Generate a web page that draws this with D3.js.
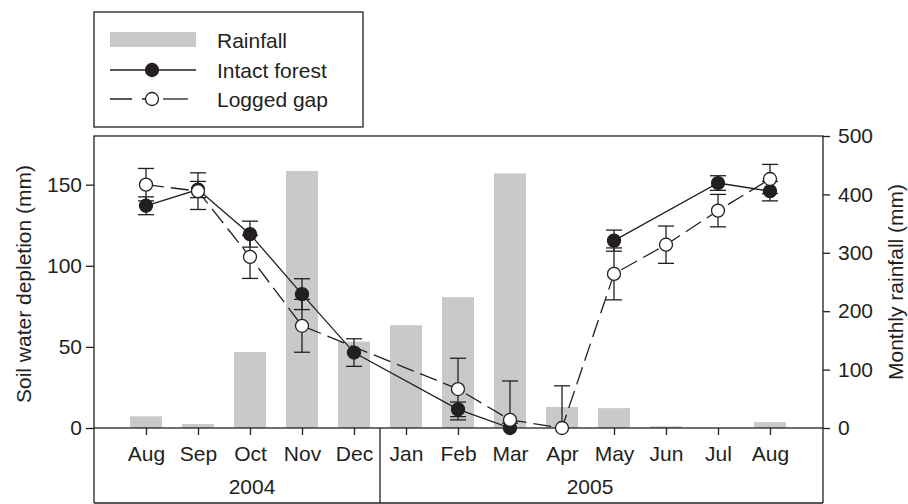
<!DOCTYPE html>
<html>
<head>
<meta charset="utf-8">
<script src="https://cdn.jsdelivr.net/npm/d3@7"></script>
<style>
  body { margin: 0; background: #fff; }
  svg text { font-family: "Liberation Sans", Arial, Helvetica, sans-serif; fill: #231f20; }
</style>
</head>
<body>
<svg id="chart" width="908" height="504"></svg>
<script>
// months on the x axis (Aug 2004 .. Aug 2005)
var months = ['Aug', 'Sep', 'Oct', 'Nov', 'Dec', 'Jan', 'Feb', 'Mar', 'Apr', 'May', 'Jun', 'Jul', 'Aug'];
var years = ['2004', '2005'];
var yearFirstMonth = [0, 5];   // index where each year starts
var yearLastMonth = [4, 12];

// monthly rainfall (mm), right axis
var rainfall = [20, 7, 130, 440, 148, 176, 224, 436, 36, 34, 3, 0, 10];

// soil water depletion (mm), left axis; null = not measured
var intact = [137, 147, 119.5, 82.5, 46.5, null, 11.5, 0, null, 115.5, null, 151, 146];
var intactErr = [5.5, 5, 8, 9.5, 8.5, null, 4.5, 3, null, 6.5, null, 4.5, 6];
var intactSegments = [[0, 7], [9, 12]];   // line is broken at Apr

var logged = [150, 146, 105.5, 63, null, null, 24, 5, 0, 95, 113, 134, 153.5];
var loggedErr = [10, 11.3, 13.3, 16.3, null, null, 19, 24, 26, 16, 11.5, 10, 9];

var leftTicks = [0, 50, 100, 150];
var rightTicks = [0, 100, 200, 300, 400, 500];

var ink = '#231f20';
var barColor = '#c8c9cb';

var svg = d3.select('#chart');

var x = d3.scalePoint().domain(d3.range(months.length)).range([94, 822]).padding(1);
var yL = d3.scaleLinear().domain([0, 180]).range([428, 136]);
var yR = d3.scaleLinear().domain([0, 500]).range([428, 136]);

// rainfall bars
svg.append('g').selectAll('rect')
  .data(rainfall)
  .enter()
  .append('rect')
  .attr('x', function(d, i) { return x(i) - 16; })
  .attr('width', 32)
  .attr('y', function(d) { return yR(d); })
  .attr('height', function(d) { return yR(0) - yR(d); })
  .attr('fill', barColor);

// frame
svg.append('rect')
  .attr('x', 94).attr('y', 136).attr('width', 729).attr('height', 292)
  .attr('fill', 'none').attr('stroke', ink).attr('stroke-width', 1.3);

// category box under the plot
var divX = (x(yearLastMonth[0]) + x(yearFirstMonth[1])) / 2;
var box = svg.append('g').attr('stroke', ink).attr('stroke-width', 1.3);
box.append('line').attr('x1', 94).attr('x2', 94).attr('y1', 428).attr('y2', 503);
box.append('line').attr('x1', 823).attr('x2', 823).attr('y1', 428).attr('y2', 503);
box.append('line').attr('x1', 94).attr('x2', 823).attr('y1', 503).attr('y2', 503);
box.append('line').attr('x1', divX).attr('x2', divX).attr('y1', 428).attr('y2', 503);

// axes
var axL = svg.append('g').attr('transform', 'translate(94,0)')
  .call(d3.axisLeft(yL).tickValues(leftTicks).tickSize(8).tickPadding(4));
var axR = svg.append('g').attr('transform', 'translate(823,0)')
  .call(d3.axisRight(yR).tickValues(rightTicks).tickSize(7).tickPadding(8));
var axB = svg.append('g').attr('transform', 'translate(0,428)')
  .call(d3.axisBottom(x).tickSize(7).tickPadding(11).tickFormat(function(i) { return months[i]; }));

[axL, axR, axB].forEach(function(a) {
  a.select('.domain').remove();
  a.selectAll('line').attr('stroke', ink).attr('stroke-width', 1.3);
  a.selectAll('text').attr('font-size', 21).attr('fill', ink)
    .style('font-family', '"Liberation Sans", Arial, sans-serif');
});

// year labels
svg.append('g').selectAll('text')
  .data(years)
  .enter()
  .append('text')
  .attr('x', function(d, i) { return (x(yearFirstMonth[i]) + x(yearLastMonth[i])) / 2 + 2; })
  .attr('y', 494)
  .attr('text-anchor', 'middle')
  .attr('font-size', 21)
  .text(function(d) { return d; });

// axis titles
svg.append('text')
  .attr('transform', 'translate(31,284) rotate(-90)')
  .attr('text-anchor', 'middle')
  .attr('font-size', 21)
  .text('Soil water depletion (mm)');
svg.append('text')
  .attr('transform', 'translate(903,282) rotate(-90)')
  .attr('text-anchor', 'middle')
  .attr('font-size', 21)
  .text('Monthly rainfall (mm)');

// one series: error bars, line, markers
function drawSeries(vals, errs, segments, dash, fill) {
  var g = svg.append('g');
  var pts = [];
  vals.forEach(function(v, i) { if (v != null) pts.push({ i: i, v: v, e: errs[i] }); });

  var eb = g.append('g').attr('stroke', ink).attr('stroke-width', 1.3);
  pts.forEach(function(p) {
    var lo = Math.max(0, p.v - p.e), hi = p.v + p.e;
    var cx = x(p.i);
    eb.append('line').attr('x1', cx).attr('x2', cx).attr('y1', yL(lo)).attr('y2', yL(hi));
    if (p.v - p.e > 0)
      eb.append('line').attr('x1', cx - 8).attr('x2', cx + 8).attr('y1', yL(lo)).attr('y2', yL(lo));
    eb.append('line').attr('x1', cx - 8).attr('x2', cx + 8).attr('y1', yL(hi)).attr('y2', yL(hi));
  });

  var line = d3.line()
    .x(function(p) { return x(p.i); })
    .y(function(p) { return yL(p.v); });

  segments.forEach(function(s) {
    var part = pts.filter(function(p) { return p.i >= s[0] && p.i <= s[1]; });
    g.append('path')
      .attr('d', line(part))
      .attr('fill', 'none')
      .attr('stroke', ink)
      .attr('stroke-width', 1.3)
      .attr('stroke-dasharray', dash);
  });

  g.selectAll('circle')
    .data(pts)
    .enter()
    .append('circle')
    .attr('cx', function(p) { return x(p.i); })
    .attr('cy', function(p) { return yL(p.v); })
    .attr('r', 6.5)
    .attr('fill', fill)
    .attr('stroke', ink)
    .attr('stroke-width', 1.3);
}

drawSeries(intact, intactErr, intactSegments, null, ink);
drawSeries(logged, loggedErr, [[0, 12]], '18,7', '#fff');

// legend
var lg = svg.append('g');
lg.append('rect').attr('x', 94).attr('y', 12).attr('width', 269).attr('height', 115)
  .attr('fill', '#fff').attr('stroke', ink).attr('stroke-width', 1.3);
lg.append('rect').attr('x', 110).attr('y', 32).attr('width', 86).attr('height', 15).attr('fill', barColor);
lg.append('line').attr('x1', 110).attr('x2', 196).attr('y1', 70).attr('y2', 70)
  .attr('stroke', ink).attr('stroke-width', 1.3);
lg.append('circle').attr('cx', 152).attr('cy', 70).attr('r', 6.5)
  .attr('fill', ink).attr('stroke', ink).attr('stroke-width', 1.3);
lg.append('line').attr('x1', 110).attr('x2', 147).attr('y1', 99).attr('y2', 99)
  .attr('stroke', ink).attr('stroke-width', 1.3).attr('stroke-dasharray', '22,10');
lg.append('line').attr('x1', 163).attr('x2', 188).attr('y1', 99).attr('y2', 99)
  .attr('stroke', ink).attr('stroke-width', 1.3);
lg.append('circle').attr('cx', 152).attr('cy', 99).attr('r', 6.5)
  .attr('fill', '#fff').attr('stroke', ink).attr('stroke-width', 1.3);

var legendLabels = ['Rainfall', 'Intact forest', 'Logged gap'];
var legendY = [40, 70, 99];
lg.selectAll('text.lab')
  .data(legendLabels)
  .enter()
  .append('text')
  .attr('class', 'lab')
  .attr('x', 217)
  .attr('y', function(d, i) { return legendY[i]; })
  .attr('dy', '0.36em')
  .attr('font-size', 21)
  .text(function(d) { return d; });
</script>
</body>
</html>
